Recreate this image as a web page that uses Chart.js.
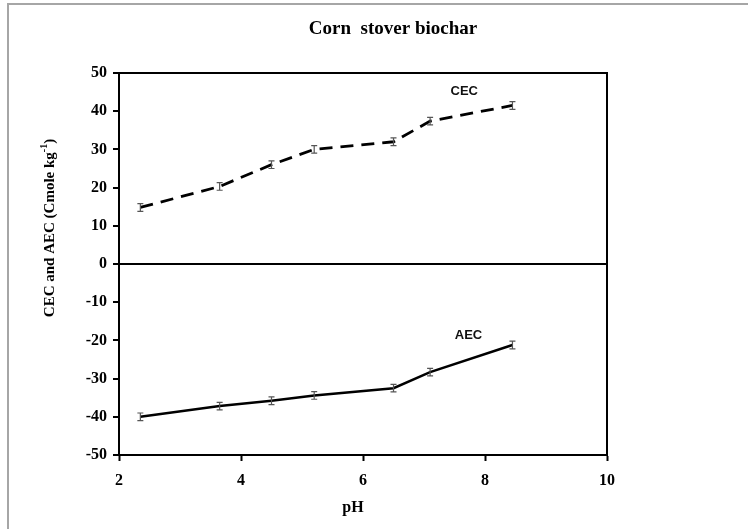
<!DOCTYPE html>
<html>
<head>
<meta charset="utf-8">
<style>
  html, body { margin: 0; padding: 0; background: #fff; }
  canvas { display: block; }
</style>
<script src="https://cdn.jsdelivr.net/npm/chart.js@4/dist/chart.umd.min.js"></script>
</head>
<body>
<canvas id="chart" width="748" height="529"></canvas>
<script>
// pH of each measurement
const phValues = [2.35, 3.65, 4.5, 5.2, 6.5, 7.1, 8.45];
// Cation exchange capacity (Cmole kg-1)
const cecValues = [14.8, 20.3, 26.0, 30.0, 32.0, 37.4, 41.5];
const cecErrors = [1.0, 1.0, 1.0, 1.0, 1.0, 1.0, 1.0];
// Anion exchange capacity (Cmole kg-1), plotted as negative values
const aecValues = [-40.0, -37.2, -35.8, -34.4, -32.5, -28.3, -21.2];
const aecErrors = [1.0, 1.0, 1.0, 1.0, 1.0, 1.0, 1.0];
// Axis ticks
const xTicks = [2, 4, 6, 8, 10];
const yTicks = [-50, -40, -30, -20, -10, 0, 10, 20, 30, 40, 50];

const serifFamily = '"Liberation Serif", "Times New Roman", serif';

const toPoints = (xs, ys) => xs.map((x, i) => ({ x: x, y: ys[i] }));

// Outer frame, plot box, titles, series labels and error bars
const decorations = {
  id: 'decorations',
  beforeDraw(chart) {
    const ctx = chart.ctx;
    ctx.save();
    ctx.fillStyle = '#fff';
    ctx.fillRect(0, 0, chart.width, chart.height);
    ctx.strokeStyle = '#a6a6a6';
    ctx.lineWidth = 2;
    ctx.beginPath();
    ctx.moveTo(8, chart.height);
    ctx.lineTo(8, 4);
    ctx.lineTo(chart.width, 4);
    ctx.stroke();
    ctx.restore();
  },
  afterDatasetsDraw(chart) {
    const ctx = chart.ctx;
    const xs = chart.scales.x, ys = chart.scales.y;
    const a = chart.chartArea;

    // error bars
    const sets = [
      { vals: cecValues, errs: cecErrors },
      { vals: aecValues, errs: aecErrors }
    ];
    ctx.save();
    ctx.strokeStyle = '#555';
    ctx.lineWidth = 1.2;
    sets.forEach(s => {
      phValues.forEach((p, i) => {
        const px = xs.getPixelForValue(p);
        const top = ys.getPixelForValue(s.vals[i] + s.errs[i]);
        const bot = ys.getPixelForValue(s.vals[i] - s.errs[i]);
        ctx.beginPath();
        ctx.moveTo(px, top); ctx.lineTo(px, bot);
        ctx.moveTo(px - 3, top); ctx.lineTo(px + 3, top);
        ctx.moveTo(px - 3, bot); ctx.lineTo(px + 3, bot);
        ctx.stroke();
      });
    });
    ctx.restore();

    // top and right edges of the plot box
    ctx.save();
    ctx.strokeStyle = '#000';
    ctx.lineWidth = 2;
    ctx.beginPath();
    ctx.moveTo(a.left, a.top);
    ctx.lineTo(a.right, a.top);
    ctx.lineTo(a.right, a.bottom);
    ctx.stroke();
    ctx.restore();

    // series labels
    ctx.save();
    ctx.fillStyle = '#111';
    ctx.font = 'bold 13px "Liberation Sans", Arial, sans-serif';
    ctx.textAlign = 'center';
    ctx.textBaseline = 'middle';
    ctx.fillText('CEC', xs.getPixelForValue(7.66), ys.getPixelForValue(45.3));
    ctx.fillText('AEC', xs.getPixelForValue(7.73), ys.getPixelForValue(-18.6));
    ctx.restore();

    // chart title
    ctx.save();
    ctx.fillStyle = '#000';
    ctx.font = 'bold 19px ' + serifFamily;
    ctx.textAlign = 'center';
    ctx.textBaseline = 'alphabetic';
    ctx.fillText('Corn  stover biochar', 393, 34);

    // x axis title
    ctx.font = 'bold 16px ' + serifFamily;
    ctx.textBaseline = 'middle';
    ctx.fillText('pH', (a.left + a.right) / 2 - 10, 508);

    // y axis title with superscript
    ctx.translate(46, 228);
    ctx.rotate(-Math.PI / 2);
    const main = 'CEC and AEC (Cmole kg';
    const sup = '-1';
    const close = ')';
    const f1 = 'bold 15px ' + serifFamily;
    const f2 = 'bold 10px ' + serifFamily;
    ctx.font = f1;
    const w1 = ctx.measureText(main).width;
    const w3 = ctx.measureText(close).width;
    ctx.font = f2;
    const w2 = ctx.measureText(sup).width;
    const x0 = -(w1 + w2 + w3) / 2;
    ctx.textAlign = 'left';
    ctx.textBaseline = 'middle';
    ctx.font = f1;
    ctx.fillText(main, x0, 4);
    ctx.font = f2;
    ctx.fillText(sup, x0 + w1, -2);
    ctx.font = f1;
    ctx.fillText(close, x0 + w1 + w2, 4);
    ctx.restore();
  }
};

const tickFont = { family: serifFamily, size: 16, weight: 'bold' };

new Chart(document.getElementById('chart'), {
  type: 'scatter',
  data: {
    datasets: [
      {
        label: 'CEC',
        data: toPoints(phValues, cecValues),
        showLine: true,
        borderColor: '#000',
        borderWidth: 2.8,
        borderDash: [13, 8],
        pointRadius: 0,
        tension: 0
      },
      {
        label: 'AEC',
        data: toPoints(phValues, aecValues),
        showLine: true,
        borderColor: '#000',
        borderWidth: 2.5,
        pointRadius: 0,
        tension: 0
      }
    ]
  },
  options: {
    responsive: false,
    devicePixelRatio: 1,
    animation: false,
    layout: { padding: { left: 0, top: 73, right: 141, bottom: 0 } },
    plugins: {
      legend: { display: false },
      title: { display: false },
      tooltip: { enabled: false }
    },
    scales: {
      x: {
        type: 'linear',
        min: 2, max: 10,
        afterBuildTicks: s => { s.ticks = xTicks.map(v => ({ value: v })); },
        afterFit: s => { s.height = 74; },
        ticks: { color: '#000', font: tickFont, padding: 10, maxRotation: 0, autoSkip: false },
        grid: { display: true, drawOnChartArea: false, tickLength: 6, tickColor: '#000', tickWidth: 2 },
        border: { color: '#000', width: 2 }
      },
      y: {
        type: 'linear',
        min: -50, max: 50,
        afterBuildTicks: s => { s.ticks = yTicks.map(v => ({ value: v })); },
        afterFit: s => { s.width = 119; },
        ticks: { color: '#000', font: tickFont, padding: 6, autoSkip: false },
        grid: {
          color: c => (c.tick && c.tick.value === 0 ? '#000' : 'rgba(0,0,0,0)'),
          lineWidth: 2,
          tickLength: 6,
          tickColor: '#000',
          tickWidth: 2
        },
        border: { color: '#000', width: 2 }
      }
    }
  },
  plugins: [decorations]
});
</script>
</body>
</html>
